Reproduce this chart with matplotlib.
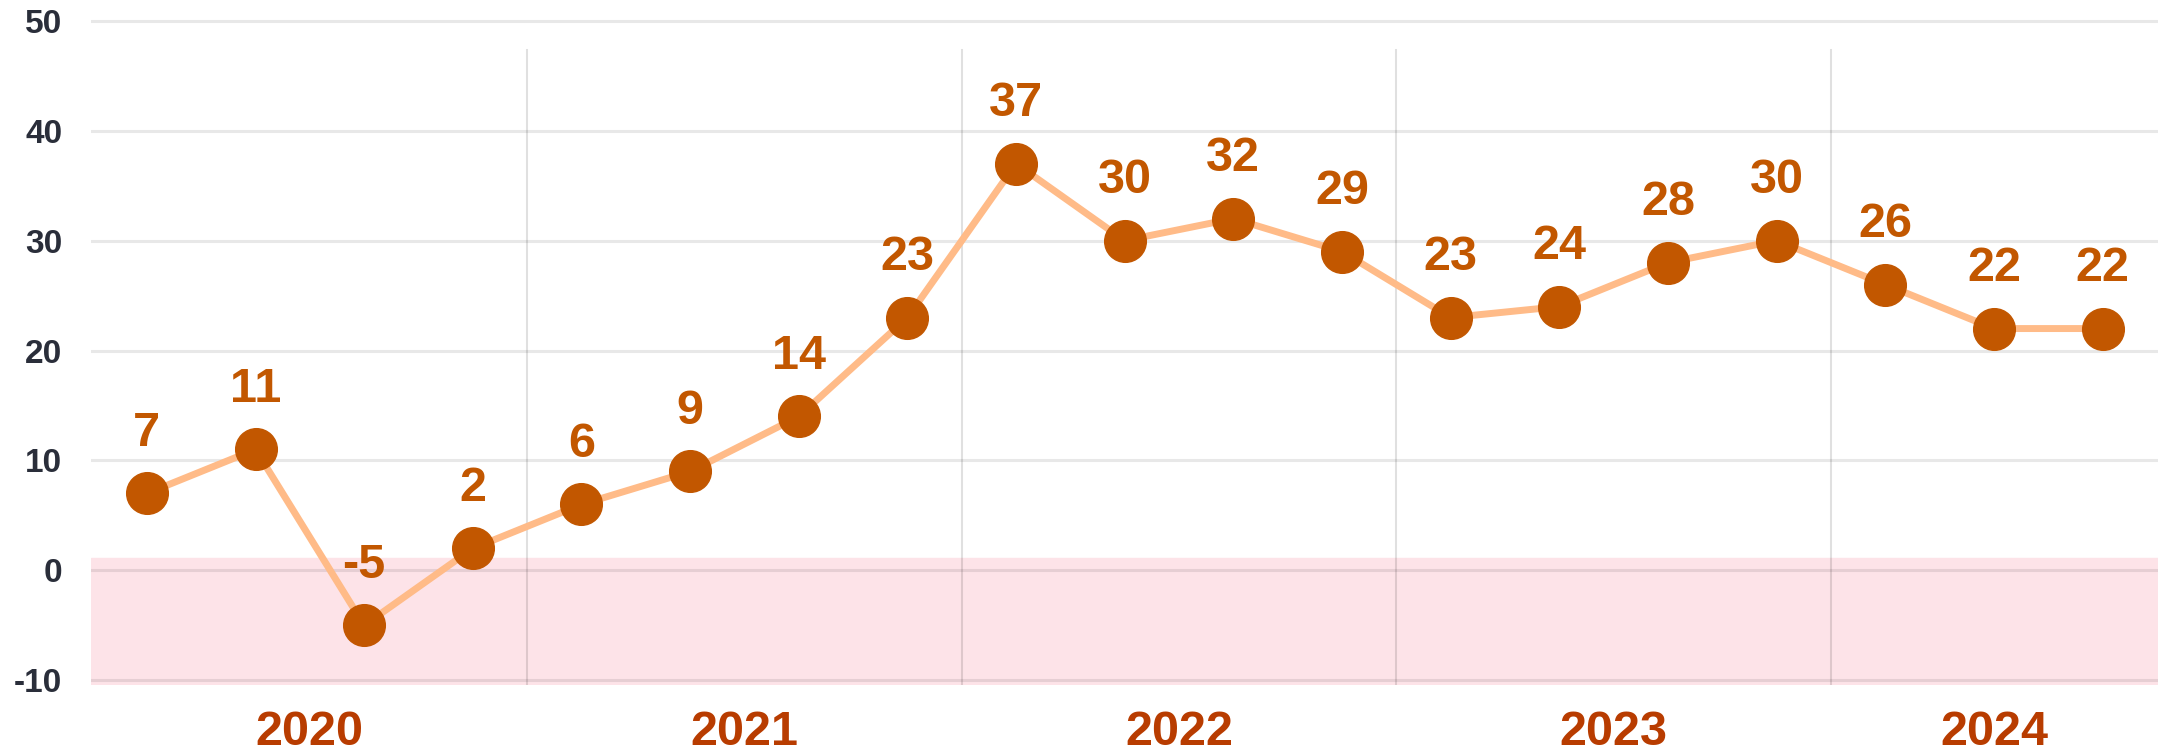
import numpy as np
import matplotlib
matplotlib.use("Agg")
import matplotlib.pyplot as plt

# quarterly values, 2020 Q1 .. 2024 Q3
values = [7, 11, -5, 2, 6, 9, 14, 23, 37, 30, 32, 29, 23, 24, 28, 30, 26, 22, 22]
years = ["2020", "2021", "2022", "2023", "2024"]
points_per_year = [4, 4, 4, 4, 3]
y_ticks = [-10, 0, 10, 20, 30, 40, 50]

plt.rcParams["font.family"] = ["Liberation Sans", "DejaVu Sans"]

marker_color = "#C25700"
line_color = "#FFBB88"
year_color = "#B83C00"
tick_color = "#2A2E3A"

fig = plt.figure(figsize=(21.73, 7.53), dpi=100)
ax = fig.add_axes([0.0421, 0.0907, 0.9510, 0.8861])

x = np.arange(len(values))
y_lo, y_hi = -10.4, 50.3

# negative zone
ax.axhspan(y_lo, 1.1, color="#FDE3E8", zorder=0)

# horizontal grid (semi-transparent so it shows darker on the pink band)
for t in y_ticks:
    ax.axhline(t, color="black", alpha=0.09, lw=2.2, zorder=1)

# year separators
bounds = np.cumsum(points_per_year)[:-1] - 0.5
for b in bounds:
    ax.axvline(b, ymin=0, ymax=0.951, color="black", alpha=0.12, lw=1.5, zorder=1)

ax.plot(x, values, color=line_color, lw=5, zorder=2)
ax.plot(x, values, "o", color=marker_color, ms=30, zorder=3)

for xi, v in zip(x, values):
    ax.annotate(str(v), (xi, v), xytext=(0, 27), textcoords="offset points",
                ha="center", va="bottom", fontsize=35, fontweight="bold",
                color=marker_color, zorder=4)

ax.set_xlim(-0.51, len(values) - 0.49)
ax.set_ylim(y_lo, y_hi)

starts = np.concatenate([[0], np.cumsum(points_per_year)[:-1]])
centers = [s + (n - 1) / 2 for s, n in zip(starts, points_per_year)]
ax.set_xticks(centers)
ax.set_xticklabels(years, fontsize=35, fontweight="bold", color=year_color)
ax.set_yticks(y_ticks)
ax.set_yticklabels([str(t) for t in y_ticks], fontsize=24, fontweight="bold", color=tick_color)
ax.tick_params(axis="x", length=0, pad=18)
ax.tick_params(axis="y", length=0, pad=21)

for s in ax.spines.values():
    s.set_visible(False)

fig.savefig("out.png", dpi=100)
